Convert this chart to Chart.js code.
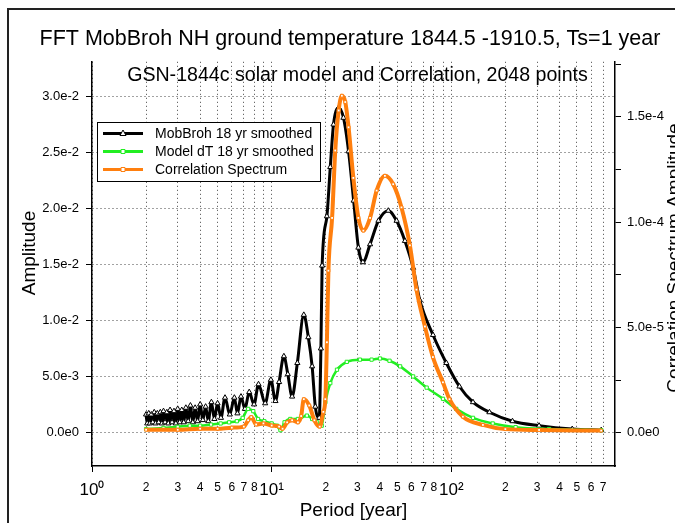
<!DOCTYPE html>
<html>
<head>
<meta charset="utf-8">
<title>FFT MobBroh NH ground temperature</title>
<script src="https://cdn.jsdelivr.net/npm/chart.js@4.4.1/dist/chart.umd.min.js"></script>
<style>
    html, body { margin: 0; padding: 0; background: #fff; overflow: hidden; }
    #wrap { position: relative; width: 700px; height: 523px; }
    #fftChart { position: absolute; left: 0; top: 0; }
    #frame {
        position: absolute; left: 7px; top: 8px; width: 760px; height: 640px;
        border: 2px solid #222; box-sizing: border-box; pointer-events: none;
    }
</style>
</head>
<body>
<div id="wrap">
    <canvas id="fftChart" width="700" height="523"></canvas>
    <div id="frame"></div>
</div>
<script>
// Period axis ticks (log scale) and their labels
const periodTicks = [1, 2, 3, 4, 5, 6, 7, 8, 9, 10, 20, 30, 40, 50, 60, 70, 80, 90, 100, 200, 300, 400, 500, 600, 700];
const periodTickLabels = ["10\u2070", "2", "3", "4", "5", "6", "7", "8", "", "10\u00b9", "2", "3", "4", "5", "6", "7", "8", "", "10\u00b2", "2", "3", "4", "5", "6", "7"];
const majorPeriods = [1, 10, 100];

// Left axis (Amplitude) and right axis (Correlation) ticks
const ampTicks = [0, 0.005, 0.01, 0.015, 0.02, 0.025, 0.03];
const corrTicks = [0, 2.5e-5, 5e-5, 7.5e-5, 1e-4, 1.25e-4, 1.5e-4, 1.75e-4];
const corrLabelledTicks = [0, 5e-5, 1e-4, 1.5e-4];

// MobBroh 18 yr smoothed (left axis)
const mobPeriod = [2.0, 2.03, 2.07, 2.1, 2.14, 2.18, 2.22, 2.26, 2.31, 2.35, 2.4, 2.45, 2.5, 2.55, 2.61, 2.66,
    2.72, 2.79, 2.86, 2.93, 3.0, 3.08, 3.16, 3.24, 3.33, 3.43, 3.53, 3.64, 3.75, 3.87, 4.0, 4.14, 4.29, 4.44,
    4.62, 4.8, 5.0, 5.22, 5.5, 5.85, 6.2, 6.45, 6.75, 7.1, 7.5, 7.98, 8.45, 9.2, 9.9, 10.5, 11.0, 11.7, 12.3,
    13.0, 13.9, 15.1, 16.0, 16.8, 17.5, 18.4, 18.8, 19.1, 20.3, 21.2, 22.1, 23.6, 25.1, 26.8, 28.6, 30.4, 32.2,
    35.3, 39.3, 44.6, 49.6, 55.2, 61.3, 66.8, 79.1, 93.8, 111, 132, 163, 219, 308, 471, 683];
const mobAmp = [0.0016, 0.0008, 0.0017, 0.0008, 0.0016, 0.0009, 0.0018, 0.0008, 0.0017, 0.0009, 0.0018, 0.0008,
    0.0019, 0.0009, 0.0018, 0.0008, 0.0020, 0.0009, 0.0019, 0.0008, 0.0021, 0.0009, 0.0020, 0.0009, 0.0022,
    0.0010, 0.0024, 0.0009, 0.0022, 0.0010, 0.0025, 0.0011, 0.0023, 0.0010, 0.0027, 0.0012, 0.0026, 0.0013,
    0.0031, 0.0016, 0.0031, 0.0017, 0.0032, 0.0021, 0.0036, 0.0025, 0.0043, 0.0026, 0.0047, 0.0028, 0.0045,
    0.0068, 0.0052, 0.0032, 0.0062, 0.0105, 0.0085, 0.0059, 0.0023, 0.0013, 0.0075, 0.0149, 0.0193, 0.0237,
    0.0275, 0.0290, 0.0281, 0.0251, 0.0207, 0.0165, 0.0152, 0.0168, 0.0189, 0.0198, 0.0189, 0.0171, 0.0147,
    0.0118, 0.0087, 0.0062, 0.0041, 0.0027, 0.0018, 0.0010, 0.0006, 0.0003, 0.0002];

// Model dT 18 yr smoothed (left axis)
const modelPeriod = [2.0, 2.5, 3.0, 3.5, 4.0, 4.6, 5.2, 5.8, 6.4, 6.9, 7.4, 7.9, 8.4, 9.1, 10.0, 10.7, 11.2, 11.8,
    12.7, 14.0, 15.7, 16.8, 17.9, 19.0, 19.9, 21.2, 23.1, 26.2, 31, 36, 40.1, 45.3, 51.9, 61.3, 72.9, 89.9,
    106.5, 132, 170, 228, 350, 683];
const modelAmp = [0.0003, 0.0004, 0.0005, 0.0006, 0.0006, 0.0007, 0.0008, 0.0009, 0.0010, 0.0013, 0.0021, 0.0019,
    0.0012, 0.0010, 0.0008, 0.0006, 0.0002, 0.0009, 0.0012, 0.0012, 0.0015, 0.0012, 0.0009, 0.0006, 0.0027,
    0.0044, 0.0056, 0.0063, 0.0065, 0.0065, 0.0066, 0.0064, 0.0059, 0.0050, 0.0040, 0.0030, 0.0021, 0.0013,
    0.0008, 0.00047, 0.0003, 0.0002];

// Correlation Spectrum (right axis)
const corrPeriod = [2.0, 3.0, 4.0, 5.0, 6.0, 7.0, 7.4, 7.7, 8.2, 9.0, 10.0, 11.0, 11.5, 12.2, 13.0, 14.0, 14.6,
    15.1, 16.2, 17.3, 18.5, 19.4, 19.9, 20.3, 20.7, 21.7, 22.6, 23.6, 24.6, 25.7, 26.8, 28.5, 30.4, 32.4, 35.3,
    38.4, 42.7, 47.5, 52.8, 58.8, 64, 71.3, 79, 89.8, 97.7, 116, 150, 200, 308, 683];
const corrAmp = [1.5e-6, 1.5e-6, 2e-6, 2e-6, 2.5e-6, 3e-6, 6e-6, 7.5e-6, 4e-6, 4.5e-6, 3.5e-6, 3e-6, 2e-6, 5e-6,
    6e-6, 5e-6, 8e-6, 1.6e-5, 1.3e-5, 6e-6, 3e-6, 1.0e-5, 1.6e-5, 4.3e-5, 7.7e-5, 1.02e-4, 1.34e-4, 1.53e-4,
    1.60e-4, 1.57e-4, 1.45e-4, 1.21e-4, 1.02e-4, 9.6e-5, 1.02e-4, 1.15e-4, 1.22e-4, 1.18e-4, 1.07e-4, 8.9e-5,
    6.8e-5, 5.05e-5, 3.6e-5, 2.4e-5, 1.6e-5, 7.7e-6, 3.8e-6, 1.8e-6, 1.4e-6, 1.1e-6];

const FONT = "'Liberation Sans', Arial, Helvetica, sans-serif";

const toPoints = (xs, ys) => xs.map((x, i) => ({ x: x, y: ys[i] }));
const expLabel = (v) => Number(v).toExponential(1).replace("+", "");

// Subtitle drawn inside the plot area, over the grid
const subtitlePlugin = {
    id: "innerSubtitle",
    beforeDatasetsDraw(chart) {
        const { ctx, chartArea } = chart;
        ctx.save();
        ctx.font = "19.6px " + FONT;
        ctx.fillStyle = "#000";
        ctx.textAlign = "center";
        ctx.textBaseline = "middle";
        ctx.fillText("GSN-1844c solar model and Correlation, 2048 points", (chartArea.left + chartArea.right) / 2 + 4, chartArea.top + 14);
        ctx.restore();
    }
};

// Both axis titles read bottom-to-top
function drawVerticalTitle(ctx, text, x, y) {
    ctx.save();
    ctx.translate(x, y);
    ctx.rotate(-Math.PI / 2);
    ctx.font = "19px " + FONT;
    ctx.fillStyle = "#000";
    ctx.textAlign = "center";
    ctx.textBaseline = "middle";
    ctx.fillText(text, 0, 0);
    ctx.restore();
}

const axisTitlesPlugin = {
    id: "axisTitles",
    afterDraw(chart) {
        drawVerticalTitle(chart.ctx, "Amplitude", 30, 253);
        drawVerticalTitle(chart.ctx, "Correlation Spectrum Amplitude", 675, 258);
    }
};

function drawMarker(ctx, style, x, y, color) {
    ctx.save();
    ctx.fillStyle = "#fff";
    ctx.strokeStyle = color;
    ctx.lineWidth = 1;
    ctx.beginPath();
    if (style === "triangle") {
        ctx.moveTo(x, y - 3.5);
        ctx.lineTo(x + 3, y + 2);
        ctx.lineTo(x - 3, y + 2);
        ctx.closePath();
    } else {
        ctx.rect(x - 2, y - 2, 4, 4);
    }
    ctx.fill();
    ctx.stroke();
    ctx.restore();
}

// Boxed legend in the upper left of the plot
const boxLegendPlugin = {
    id: "boxLegend",
    afterDraw(chart) {
        const { ctx } = chart;
        const box = { left: 97.5, top: 122.5, width: 223, height: 59 };
        ctx.save();
        ctx.fillStyle = "#fff";
        ctx.fillRect(box.left, box.top, box.width, box.height);
        ctx.strokeStyle = "#000";
        ctx.lineWidth = 1;
        ctx.strokeRect(box.left, box.top, box.width, box.height);
        ctx.font = "14px " + FONT;
        ctx.textBaseline = "middle";
        chart.data.datasets.forEach((ds, i) => {
            const y = box.top + 11 + i * 18;
            ctx.strokeStyle = ds.borderColor;
            ctx.lineWidth = 3;
            ctx.beginPath();
            ctx.moveTo(103, y);
            ctx.lineTo(143, y);
            ctx.stroke();
            drawMarker(ctx, ds.pointStyle, 123, y, ds.pointBorderColor);
            ctx.fillStyle = "#000";
            ctx.fillText(ds.label, 155, y + 1);
        });
        ctx.restore();
    }
};

const chart = new Chart(document.getElementById("fftChart"), {
    type: "line",
    data: {
        datasets: [
            {
                label: "MobBroh 18 yr smoothed",
                data: toPoints(mobPeriod, mobAmp),
                yAxisID: "y",
                order: 3,
                borderColor: "#000",
                borderWidth: 3,
                pointStyle: "triangle",
                pointRadius: 3,
                pointBorderWidth: 1,
                pointBackgroundColor: "#fff",
                pointBorderColor: "#000",
                cubicInterpolationMode: "monotone"
            },
            {
                label: "Model dT 18 yr smoothed",
                data: toPoints(modelPeriod, modelAmp),
                yAxisID: "y",
                order: 2,
                borderColor: "#22ee22",
                borderWidth: 2.5,
                pointStyle: "rect",
                pointRadius: 2.3,
                pointBorderWidth: 1,
                pointBackgroundColor: "#fff",
                pointBorderColor: "#22ee22",
                cubicInterpolationMode: "monotone"
            },
            {
                label: "Correlation Spectrum",
                data: toPoints(corrPeriod, corrAmp),
                yAxisID: "y2",
                order: 1,
                borderColor: "#ff7f0e",
                borderWidth: 4,
                pointStyle: "rect",
                pointRadius: 2,
                pointBorderWidth: 1,
                pointBackgroundColor: "#fff",
                pointBorderColor: "#ff7f0e",
                cubicInterpolationMode: "monotone"
            }
        ]
    },
    options: {
        responsive: false,
        animation: false,
        events: [],
        layout: { padding: 0 },
        plugins: {
            legend: { display: false },
            tooltip: { enabled: false },
            title: {
                display: true,
                text: "FFT MobBroh NH ground temperature 1844.5 -1910.5, Ts=1 year",
                color: "#000",
                font: { family: FONT, size: 21.5, weight: "normal" },
                padding: { top: 26, bottom: 10 }
            }
        },
        scales: {
            x: {
                type: "logarithmic",
                position: "bottom",
                min: 1,
                max: 815,
                afterBuildTicks: (scale) => {
                    scale.ticks = periodTicks.map(v => ({ value: v, major: majorPeriods.includes(v) }));
                },
                afterFit: (scale) => { scale.height = 57; },
                ticks: {
                    autoSkip: false,
                    maxRotation: 0,
                    padding: 8,
                    color: "#000",
                    font: (ctx) => (ctx.tick && ctx.tick.major) ? { family: FONT, size: 17 } : { family: FONT, size: 12 },
                    callback: (value) => periodTickLabels[periodTicks.indexOf(value)] ?? ""
                },
                grid: {
                    color: "#444",
                    tickLength: 6,
                    tickColor: (ctx) => (ctx.tick && ctx.tick.major) ? "#000" : "rgba(0,0,0,0)"
                },
                border: { color: "#000", width: 1.5, dash: [1, 3] },
                title: {
                    display: true,
                    text: "Period [year]",
                    color: "#000",
                    font: { family: FONT, size: 19 },
                    padding: { top: 0, bottom: 1 }
                }
            },
            y: {
                type: "linear",
                position: "left",
                min: -0.003,
                max: 0.0331,
                afterBuildTicks: (scale) => {
                    scale.ticks = ampTicks.map(v => ({ value: v }));
                },
                afterFit: (scale) => { scale.width = 92; },
                ticks: {
                    color: "#000",
                    padding: 7,
                    font: { family: FONT, size: 13 },
                    callback: (value) => expLabel(value)
                },
                grid: { color: "#444", tickLength: 6, tickColor: "#000" },
                border: { color: "#000", width: 1.5, dash: [1, 3] }
            },
            y2: {
                type: "linear",
                position: "right",
                min: -1.57e-5,
                max: 1.761e-4,
                afterBuildTicks: (scale) => {
                    scale.ticks = corrTicks.map(v => ({ value: v }));
                },
                afterFit: (scale) => { scale.width = 85; },
                ticks: {
                    color: "#000",
                    padding: 6,
                    font: { family: FONT, size: 13 },
                    callback: (value) => corrLabelledTicks.some(t => Math.abs(t - value) < 1e-9) ? expLabel(value) : ""
                },
                grid: { drawOnChartArea: false, tickLength: 6, tickColor: "#000" },
                border: { color: "#000", width: 1.5 }
            }
        }
    },
    plugins: [subtitlePlugin, axisTitlesPlugin, boxLegendPlugin]
});
</script>
</body>
</html>
